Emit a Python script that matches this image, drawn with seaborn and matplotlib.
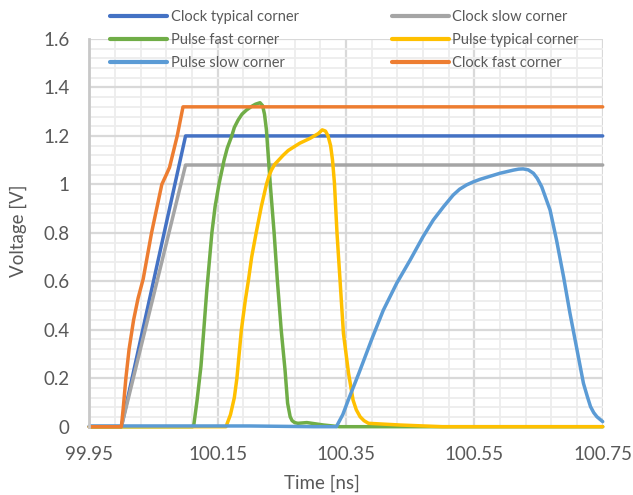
import numpy as np
import pandas as pd
import matplotlib
matplotlib.use("Agg")
import matplotlib.pyplot as plt
from matplotlib.lines import Line2D
from matplotlib.ticker import FixedLocator
import seaborn as sns

# ---- waveform data (time in ns, voltage in V) ----
clock_typ_t = [99.95, 100.0, 100.1, 100.75]
clock_typ_v = [0, 0, 1.2, 1.2]

clock_slow_t = [99.95, 100.0, 100.1, 100.75]
clock_slow_v = [0, 0, 1.08, 1.08]

pulse_fast_t = [99.95, 100.111, 100.113, 100.118, 100.124, 100.128, 100.133, 100.141,
                100.146, 100.152, 100.156, 100.160, 100.165, 100.172, 100.176, 100.182,
                100.188, 100.195, 100.203, 100.209, 100.216, 100.220, 100.223, 100.226,
                100.232, 100.238, 100.243, 100.249, 100.255, 100.259, 100.263, 100.266,
                100.270, 100.275, 100.289, 100.315, 100.34, 100.75]
pulse_fast_v = [0, 0, 0.01, 0.11, 0.25, 0.385, 0.56, 0.8,
                0.908, 1.0, 1.05, 1.1, 1.15, 1.2, 1.235, 1.266,
                1.29, 1.307, 1.322, 1.331, 1.337, 1.325, 1.29, 1.225,
                1.0, 0.8, 0.605, 0.4, 0.234, 0.097, 0.041, 0.025,
                0.017, 0.014, 0.017, 0.007, 0, 0]

pulse_typ_t = [99.95, 100.163, 100.170, 100.176, 100.180, 100.187, 100.193, 100.198,
               100.203, 100.210, 100.218, 100.226, 100.230, 100.234, 100.239, 100.245,
               100.252, 100.260, 100.278, 100.294, 100.307, 100.313, 100.318, 100.322,
               100.326, 100.329, 100.332, 100.336, 100.341, 100.346, 100.354, 100.361,
               100.366, 100.372, 100.378, 100.385, 100.434, 100.5, 100.75]
pulse_typ_v = [0, 0, 0.05, 0.12, 0.2, 0.4, 0.52, 0.605,
               0.7, 0.8, 0.908, 1.0, 1.035, 1.06, 1.083, 1.1,
               1.12, 1.14, 1.17, 1.19, 1.21, 1.225, 1.22, 1.2,
               1.16, 1.1, 1.005, 0.798, 0.592, 0.385, 0.22, 0.11,
               0.07, 0.041, 0.025, 0.014, 0.007, 0, 0]

pulse_slow_t = [99.95, 100.2, 100.3, 100.335, 100.345, 100.355, 100.37, 100.39,
                100.408, 100.429, 100.45, 100.47, 100.486, 100.502, 100.517, 100.527,
                100.538, 100.548, 100.559, 100.59, 100.611, 100.619, 100.626, 100.634,
                100.642, 100.648, 100.655, 100.668, 100.678, 100.689, 100.699, 100.71,
                100.72, 100.726, 100.731, 100.736, 100.741, 100.75]
pulse_slow_v = [0.003, 0.003, 0.0, 0.0, 0.05, 0.12, 0.22, 0.36,
                0.48, 0.592, 0.688, 0.784, 0.853, 0.908, 0.956, 0.98,
                0.998, 1.01, 1.021, 1.046, 1.059, 1.063, 1.064, 1.06,
                1.046, 1.025, 0.99, 0.894, 0.771, 0.619, 0.468, 0.317,
                0.179, 0.125, 0.083, 0.058, 0.041, 0.021]

clock_fast_t = [99.95, 100.0, 100.003, 100.007, 100.012, 100.019, 100.026, 100.034,
                100.047, 100.063, 100.070, 100.075, 100.087, 100.096, 100.75]
clock_fast_v = [0, 0, 0.08, 0.2, 0.32, 0.44, 0.53, 0.61,
                0.8, 1.0, 1.04, 1.07, 1.2, 1.32, 1.32]

series_names = ["Clock typical corner", "Clock slow corner", "Pulse fast corner",
                "Pulse typical corner", "Pulse slow corner", "Clock fast corner"]
series_t = [clock_typ_t, clock_slow_t, pulse_fast_t, pulse_typ_t, pulse_slow_t, clock_fast_t]
series_v = [clock_typ_v, clock_slow_v, pulse_fast_v, pulse_typ_v, pulse_slow_v, clock_fast_v]
series_colors = ["#4472C4", "#A5A5A5", "#70AD47", "#FFC000", "#5B9BD5", "#ED7D31"]

x_ticks = [99.95, 100.15, 100.35, 100.55, 100.75]
y_ticks = [0, 0.2, 0.4, 0.6, 0.8, 1.0, 1.2, 1.4, 1.6]

df = pd.concat(
    [pd.DataFrame({"t": t, "v": v, "series": n})
     for n, t, v in zip(series_names, series_t, series_v)],
    ignore_index=True,
)

sns.set_theme(style="white")
plt.rcParams["font.family"] = ["Lato", "DejaVu Sans"]
text_color = "#595959"

fig = plt.figure(figsize=(6.33, 4.95), dpi=100)
ax = fig.add_axes([89.3 / 633, 1 - 426.7 / 495, (602.7 - 89.3) / 633, (426.7 - 39) / 495])

for name, color in zip(series_names, series_colors):
    sub = df[df["series"] == name]
    sns.lineplot(data=sub, x="t", y="v", color=color, linewidth=2.5,
                 estimator=None, sort=False, legend=False, ax=ax,
                 solid_capstyle="round", solid_joinstyle="round", clip_on=False)

ax.set_xlim(99.95, 100.75)
ax.set_ylim(0, 1.6)
ax.xaxis.set_major_locator(FixedLocator(x_ticks))
ax.yaxis.set_major_locator(FixedLocator(y_ticks))
ax.xaxis.set_minor_locator(FixedLocator(np.arange(99.95, 100.7501, 0.04)))
ax.yaxis.set_minor_locator(FixedLocator(np.arange(0, 1.6001, 0.04)))
ax.set_xticklabels([f"{v:.2f}" for v in x_ticks])
ax.set_yticklabels([f"{v:g}" for v in y_ticks])
ax.grid(which="minor", color="#EDEDED", linewidth=1.3, zorder=0)
ax.grid(which="major", color="#D9D9D9", linewidth=1.6, zorder=0)
ax.set_axisbelow(True)
ax.tick_params(which="both", length=0, labelsize=13.5, colors=text_color, pad=14)
for side in ["top", "right", "bottom"]:
    ax.spines[side].set_visible(False)
ax.spines["left"].set_color("#C8C8C8")
ax.spines["left"].set_linewidth(2)
ax.set_xlabel("")
ax.set_ylabel("")

fig.text(322 / 633, 1 - 483 / 495, "Time [ns]", ha="center", va="center",
         fontsize=13.5, color=text_color)
fig.text(18 / 633, 1 - 231 / 495, "Voltage [V]", ha="center", va="center",
         rotation=90, fontsize=13.5, color=text_color)

handles = [Line2D([0], [0], color=c, linewidth=3, solid_capstyle="round")
           for c in series_colors]
legend_kw = dict(frameon=False, fontsize=10.5, handlelength=3.9, handletextpad=0.25,
                 labelspacing=0.62, borderpad=0, borderaxespad=0, loc="upper left",
                 labelcolor=text_color)
left_idx = [0, 2, 4]
right_idx = [1, 3, 5]
leg1 = fig.legend([handles[i] for i in left_idx], [series_names[i] for i in left_idx],
                  bbox_to_anchor=(110 / 633, 1 - 10 / 495), **legend_kw)
leg2 = fig.legend([handles[i] for i in right_idx], [series_names[i] for i in right_idx],
                  bbox_to_anchor=(391.7 / 633, 1 - 10 / 495), **legend_kw)

fig.savefig("out.png", dpi=100)
